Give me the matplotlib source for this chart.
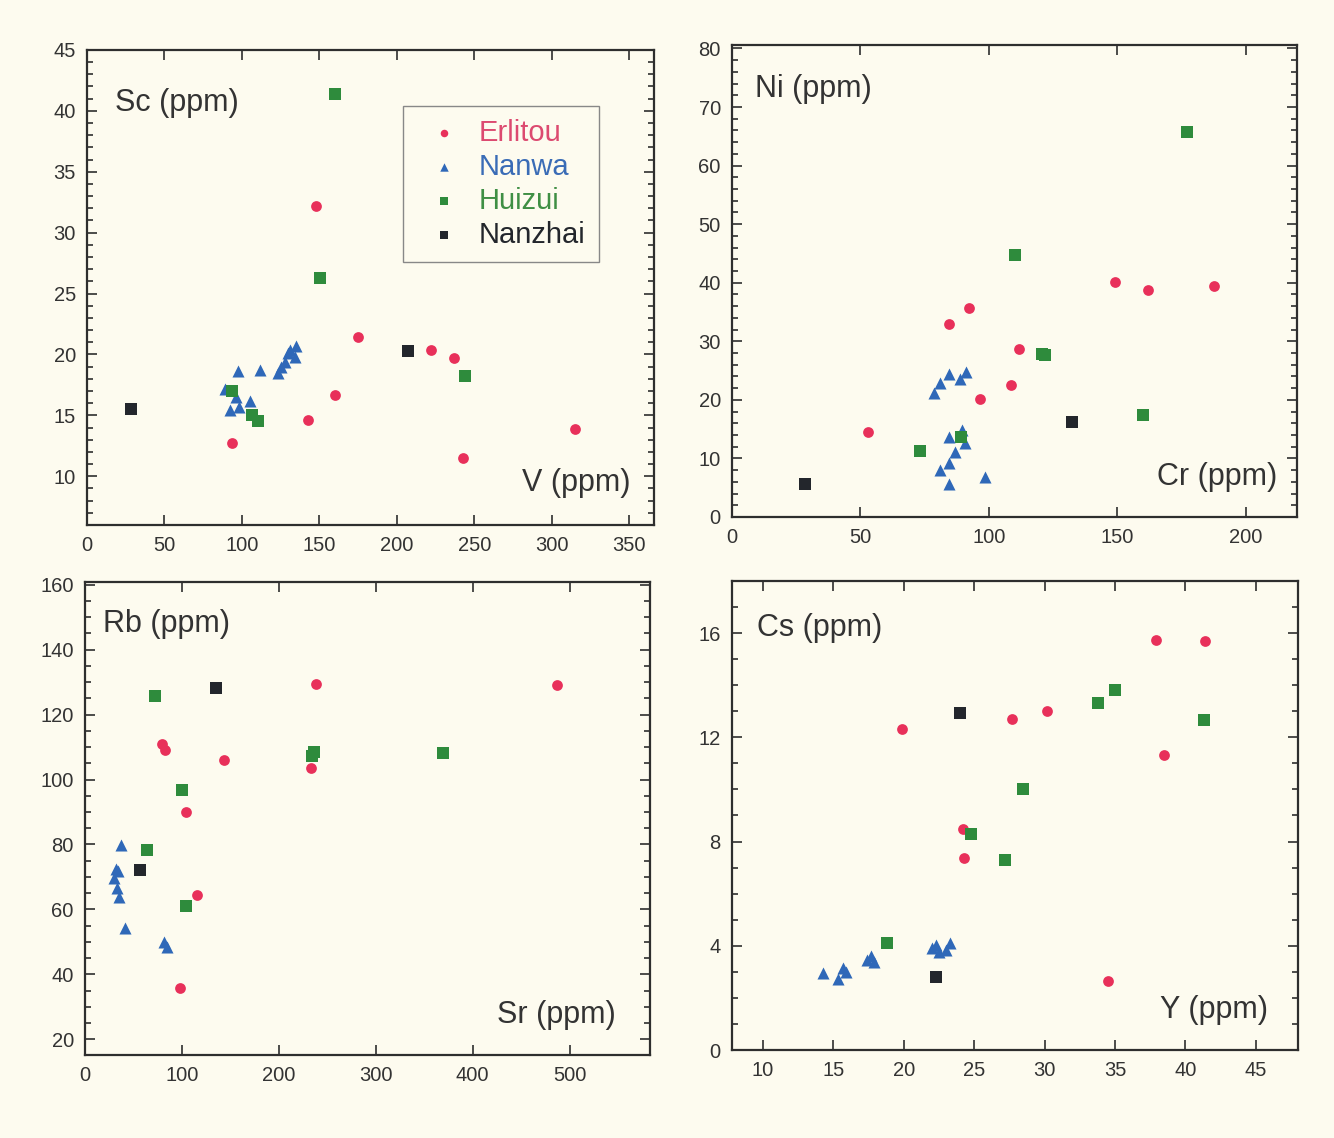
import matplotlib
matplotlib.use("Agg")
import matplotlib.pyplot as plt
from matplotlib.ticker import MultipleLocator

plt.rcParams['font.family'] = ['Liberation Sans', 'DejaVu Sans']

# ---------------- data ----------------
# Panel 1: V (x) vs Sc (y)
er_V = [147.6, 174.8, 160.1, 142.4, 93.8, 222.3, 236.6, 315.2, 242.6]
er_Sc = [32.2, 21.4, 16.7, 14.6, 12.7, 20.4, 19.7, 13.9, 11.5]
nw_V = [97.4, 111.5, 89.4, 92.0, 98.1, 96.3, 105.4, 123.3, 125.5, 127.7, 129.8, 134.2, 134.8, 130.9]
nw_Sc = [18.6, 18.7, 17.2, 15.4, 15.7, 16.5, 16.2, 18.5, 19.0, 19.4, 20.1, 19.8, 20.7, 20.4]
hz_V = [160.1, 150.4, 93.8, 106.7, 110.4, 244.3]
hz_Sc = [41.4, 26.3, 17.0, 15.0, 14.5, 18.2]
nz_V = [28.3, 206.9]
nz_Sc = [15.5, 20.3]

# Panel 2: Cr (x) vs Ni (y)
er_Cr = [92.1, 84.4, 53.0, 96.7, 108.8, 111.6, 149.2, 161.9, 187.5]
er_Ni = [35.7, 32.9, 14.5, 20.1, 22.6, 28.7, 40.2, 38.8, 39.5]
nw_Cr = [78.5, 81.1, 84.4, 88.9, 91.2, 84.4, 89.6, 90.6, 87.0, 84.4, 80.9, 84.4, 98.6]
nw_Ni = [21.2, 22.9, 24.5, 23.6, 24.7, 13.7, 14.8, 12.6, 11.1, 9.2, 8.0, 5.7, 6.9]
hz_Cr = [110.3, 73.3, 89.2, 177.1, 120.7, 122.0, 160.2]
hz_Ni = [44.8, 11.3, 13.7, 65.8, 27.9, 27.6, 17.4]
nz_Cr = [28.6, 132.4]
nz_Ni = [5.7, 16.3]

# Panel 3: Sr (x) vs Rb (y)
er_Sr = [238.6, 79.3, 82.7, 143.0, 232.7, 104.1, 115.1, 97.9, 486.8]
er_Rb = [129.5, 110.9, 109.0, 105.9, 103.4, 90.0, 64.6, 35.9, 129.0]
nw_Sr = [36.9, 31.7, 34.4, 30.0, 33.4, 35.2, 41.1, 81.7, 85.1]
nw_Rb = [79.8, 72.6, 71.9, 69.8, 66.5, 63.9, 54.2, 50.0, 48.3]
hz_Sr = [72.4, 236.0, 234.0, 100.6, 64.4, 104.1, 369.5]
hz_Rb = [125.7, 108.5, 107.3, 96.7, 78.2, 61.1, 108.3]
nz_Sr = [135.2, 56.6]
nz_Rb = [128.2, 72.3]

# Panel 4: Y (x) vs Cs (y)
er_Y = [19.9, 27.7, 30.2, 24.2, 24.3, 37.9, 41.4, 38.5, 34.5]
er_Cs = [12.3, 12.7, 13.0, 8.5, 7.35, 15.73, 15.71, 11.34, 2.63]
nw_Y = [14.3, 15.3, 15.7, 15.9, 17.4, 17.7, 17.9, 22.3, 22.5, 23.0, 23.3, 22.0]
nw_Cs = [2.94, 2.71, 3.13, 3.0, 3.45, 3.6, 3.39, 4.02, 3.77, 3.83, 4.11, 3.92]
hz_Y = [28.5, 24.75, 27.2, 18.8, 35.0, 33.8, 41.3]
hz_Cs = [10.03, 8.28, 7.3, 4.12, 13.82, 13.3, 12.67]
nz_Y = [24.0, 22.3]
nz_Cs = [12.93, 2.79]

groups = ['Erlitou', 'Nanwa', 'Huizui', 'Nanzhai']

# ---------------- styling ----------------
BG = '#fdfbef'
C_RED = '#e8305a'
C_BLUE = '#2f68b8'
C_GREEN = '#2e8b3c'
C_BLACK = '#23262c'
T_RED = '#dc4a70'
T_BLUE = '#3a6cb6'
T_GREEN = '#3f8f44'
AX = '#2e2e2e'

fig = plt.figure(figsize=(13.34, 11.38), dpi=100, facecolor=BG)


def style(ax, xlim, ylim, xmaj, ymaj, ymin):
    ax.set_facecolor(BG)
    ax.set_xlim(*xlim)
    ax.set_ylim(*ylim)
    ax.xaxis.set_major_locator(MultipleLocator(xmaj))
    ax.yaxis.set_major_locator(MultipleLocator(ymaj))
    ax.yaxis.set_minor_locator(MultipleLocator(ymin))
    for s in ax.spines.values():
        s.set_color(AX)
        s.set_linewidth(1.6)
    ax.tick_params(which='both', direction='in', top=True, right=True,
                   colors=AX, labelcolor='#333333', labelsize=14.5, width=1.2)
    ax.tick_params(which='major', length=7, pad=8)
    ax.tick_params(which='minor', length=4)


def scatter_groups(ax, xs, ys):
    ax.scatter(xs[0], ys[0], marker='o', s=60, color=C_RED, linewidths=0, zorder=3, label=groups[0])
    ax.scatter(xs[1], ys[1], marker='^', s=75, color=C_BLUE, linewidths=0, zorder=3, label=groups[1])
    ax.scatter(xs[2], ys[2], marker='s', s=72, color=C_GREEN, linewidths=0, zorder=3, label=groups[2])
    ax.scatter(xs[3], ys[3], marker='s', s=72, color=C_BLACK, linewidths=0, zorder=3, label=groups[3])


LBL = dict(fontsize=22, color='#333333')

# Panel 1
ax1 = fig.add_axes([0.0652, 0.5387, 0.4251, 0.4174])
style(ax1, (0, 366), (6, 45), 50, 5, 1)
scatter_groups(ax1, [er_V, nw_V, hz_V, nz_V], [er_Sc, nw_Sc, hz_Sc, nz_Sc])
ax1.text(0.049, 0.888, 'Sc (ppm)', transform=ax1.transAxes, ha='left', va='center', **LBL)
ax1.text(0.959, 0.088, 'V (ppm)', transform=ax1.transAxes, ha='right', va='center', **LBL)
leg = ax1.legend(loc='upper left', bbox_to_anchor=(0.557, 0.882), fontsize=21,
                 frameon=True, fancybox=False, edgecolor='#888888', facecolor=BG,
                 framealpha=1, markerscale=0.7, handletextpad=0.25, borderpad=0.45,
                 labelspacing=0.2, handlelength=1.9, borderaxespad=0)
leg.get_frame().set_linewidth(1.0)
for t, c in zip(leg.get_texts(), [T_RED, T_BLUE, T_GREEN, C_BLACK]):
    t.set_color(c)

# Panel 2
ax2 = fig.add_axes([0.5487, 0.5457, 0.4236, 0.4148])
style(ax2, (0, 220), (0, 80.6), 50, 10, 2)
scatter_groups(ax2, [er_Cr, nw_Cr, hz_Cr, nz_Cr], [er_Ni, nw_Ni, hz_Ni, nz_Ni])
ax2.text(0.041, 0.907, 'Ni (ppm)', transform=ax2.transAxes, ha='left', va='center', **LBL)
ax2.text(0.965, 0.085, 'Cr (ppm)', transform=ax2.transAxes, ha='right', va='center', **LBL)

# Panel 3
ax3 = fig.add_axes([0.0637, 0.0729, 0.4236, 0.4157])
style(ax3, (0, 583), (15.2, 160.8), 100, 20, 5)
scatter_groups(ax3, [er_Sr, nw_Sr, hz_Sr, nz_Sr], [er_Rb, nw_Rb, hz_Rb, nz_Rb])
ax3.text(0.032, 0.911, 'Rb (ppm)', transform=ax3.transAxes, ha='left', va='center', **LBL)
ax3.text(0.94, 0.085, 'Sr (ppm)', transform=ax3.transAxes, ha='right', va='center', **LBL)

# Panel 4
ax4 = fig.add_axes([0.5487, 0.0773, 0.4243, 0.4122])
style(ax4, (7.8, 48), (0, 18), 5, 4, 1)
scatter_groups(ax4, [er_Y, nw_Y, hz_Y, nz_Y], [er_Cs, nw_Cs, hz_Cs, nz_Cs])
ax4.text(0.044, 0.90, 'Cs (ppm)', transform=ax4.transAxes, ha='left', va='center', **LBL)
ax4.text(0.947, 0.085, 'Y (ppm)', transform=ax4.transAxes, ha='right', va='center', **LBL)

fig.savefig('out.png', dpi=100, facecolor=BG)
